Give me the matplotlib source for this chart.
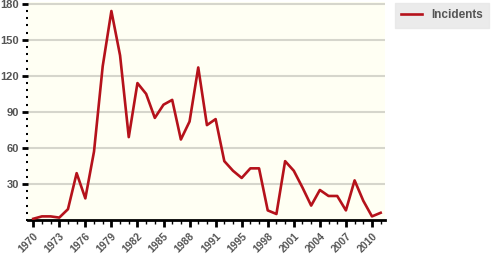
import matplotlib
matplotlib.use("Agg")
import matplotlib.pyplot as plt
from matplotlib.ticker import MultipleLocator, FixedLocator

years = [str(y) for y in list(range(1970, 1993)) + list(range(1994, 2012))]
incidents = [1, 3, 3, 2, 9, 39, 18, 57, 128, 174, 137, 69, 114, 105, 85, 96, 100,
             67, 82, 127, 79, 84, 49,
             41, 35, 43, 43, 8, 5, 49, 41, 27, 12, 25, 20, 20, 8, 33, 16, 3, 6]
y_ticks = [30, 60, 90, 120, 150, 180]
series_name = "Incidents"

plt.rcParams['font.family'] = ['Liberation Sans', 'DejaVu Sans']

fig = plt.figure(figsize=(5.01, 2.63), dpi=100)
ax = fig.add_axes([28/501, 43/263, (385-28)/501, (220-2)/263])
ax.set_facecolor('#fffff3')

x = list(range(len(years)))
for v in y_ticks:
    ax.axhline(v, color='#d6d6cc', lw=1.5, zorder=1)
ax.plot(x, incidents, color='#b5121b', lw=1.9, zorder=3, label=series_name)

ax.set_xlim(-0.6, len(years) - 0.5)
ax.set_ylim(0, 181.5)

for s in ['left', 'right', 'top']:
    ax.spines[s].set_visible(False)
ax.spines['bottom'].set_linewidth(2)
ax.spines['bottom'].set_color('black')

major_idx = list(range(0, len(years), 3))
ax.xaxis.set_major_locator(FixedLocator(major_idx))
ax.xaxis.set_minor_locator(FixedLocator(x))
ax.set_xticklabels([years[i] for i in major_idx], rotation=45, ha='right',
                   rotation_mode='anchor', fontsize=7.5, fontweight='bold', color='#555555')
ax.tick_params(axis='x', which='major', length=5, width=2, color='black', pad=3)
ax.tick_params(axis='x', which='minor', length=3, width=1, color='black')

ax.yaxis.set_major_locator(FixedLocator(y_ticks))
ax.yaxis.set_minor_locator(MultipleLocator(6))
ax.set_yticklabels([str(v) for v in y_ticks], fontsize=8, fontweight='bold', color='#555555')
ax.tick_params(axis='y', which='major', length=4, width=2, color='black', pad=2.5)
ax.tick_params(axis='y', which='minor', length=1.5, width=1.5, color='black')

leg = fig.legend(loc='upper left', bbox_to_anchor=(395/501, 1 - 3/263), borderaxespad=0,
                 frameon=True, fancybox=False, handlelength=1.7, borderpad=0.55,
                 handletextpad=0.8, prop={'size': 8.5, 'weight': 'bold'})
leg.get_frame().set_facecolor('#e6e6e6')
leg.get_frame().set_edgecolor('#e6e6e6')
for t in leg.get_texts():
    t.set_color('#555555')

fig.savefig('out.png', dpi=100)
